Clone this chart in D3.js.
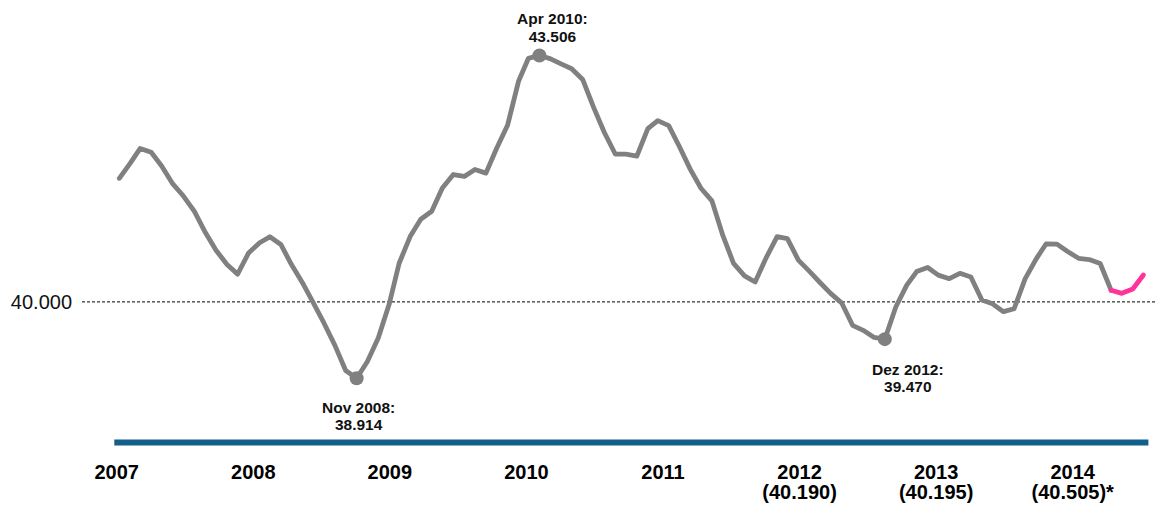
<!DOCTYPE html>
<html>
<head>
<meta charset="utf-8">
<script src="https://cdn.jsdelivr.net/npm/d3@7"></script>
<style>
  html, body { margin: 0; padding: 0; background: #fff; }
  svg { display: block; font-family: "Liberation Sans", Arial, sans-serif; }
</style>
</head>
<body>
<svg id="chart" width="1155" height="507"></svg>
<script>
// Monthly values, Jan 2007 – Dec 2014 (in thousands)
const startMonth = "2007-01";
const values = [
  // 2007
  41758, 41973, 42183, 42128, 41930, 41678, 41506, 41287, 40986, 40735, 40532, 40395,
  // 2008
  40696, 40842, 40926, 40817, 40531, 40273, 39993, 39697, 39378, 39024, 38914, 39149,
  // 2009
  39488, 39970, 40550, 40929, 41175, 41289, 41620, 41812, 41785, 41883, 41832, 42182,
  // 2010
  42512, 43138, 43465, 43506, 43461, 43385, 43316, 43164, 42767, 42413, 42104, 42101,
  // 2011
  42075, 42464, 42578, 42508, 42211, 41885, 41617, 41437, 40942, 40549, 40371, 40283,
  // 2012
  40627, 40927, 40899, 40595, 40441, 40276, 40122, 39987, 39667, 39596, 39494, 39470,
  // 2013
  39927, 40238, 40431, 40489, 40381, 40330, 40407, 40354, 40027, 39972, 39861, 39903,
  // 2014
  40327, 40609, 40824, 40822, 40717, 40620, 40602, 40546, 40165, 40122, 40184, 40383
];
// months from this one on are estimates
const estimateFrom = "2014-09";

const referenceValue = 40000;

// highlighted extremes
const markedMonths = ["2008-11", "2010-04", "2012-12"];
const markedTitles = ["Nov 2008:", "Apr 2010:", "Dez 2012:"];

// year axis
const years = ["2007", "2008", "2009", "2010", "2011", "2012", "2013", "2014"];
const yearAverages = [null, null, null, null, null, 40190, 40195, 40505];
const yearEstimated = [false, false, false, false, false, false, false, true];

// ---------------------------------------------------------------
const W = 1155, H = 507;
const svg = d3.select("#chart");
const parseMonth = d3.timeParse("%Y-%m");
const de = d3.formatLocale({ decimal: ",", thousands: ".", grouping: [3], currency: ["", " €"] });
const fmt = de.format(",d");

const start = parseMonth(startMonth);
const series = values.map((v, i) => ({ date: d3.timeMonth.offset(start, i), value: v }));
const estDate = parseMonth(estimateFrom);
const actual = series.filter(d => d.date <= estDate);
const estimate = series.filter(d => d.date >= estDate);

const x = d3.scaleTime()
  .domain(d3.extent(series, d => d.date))
  .range([119.3, 1143.4]);
const y = d3.scaleLinear()
  .domain([38000, 44000])
  .range([442.5, 20.7]);
const xYear = d3.scalePoint()
  .domain(years)
  .range([116.7, 1072.7]);

// reference line at 40.000
const yRef = y(referenceValue);
svg.append("line")
  .attr("x1", 82).attr("x2", W)
  .attr("y1", yRef).attr("y2", yRef)
  .attr("stroke", "#000").attr("stroke-width", 1)
  .attr("stroke-dasharray", "3,2");
svg.append("text")
  .attr("x", 72).attr("y", yRef).attr("dy", "0.35em")
  .attr("text-anchor", "end")
  .attr("font-size", 20).attr("fill", "#111")
  .text(fmt(referenceValue));

// base axis line
const [x0, x1] = x.range();
svg.append("line")
  .attr("x1", x0 - 5).attr("x2", x1 + 5)
  .attr("y1", y(y.domain()[0])).attr("y2", y(y.domain()[0]))
  .attr("stroke", "#125f8b").attr("stroke-width", 6);

// series
const line = d3.line().x(d => x(d.date)).y(d => y(d.value));
svg.append("path").datum(actual)
  .attr("d", line)
  .attr("fill", "none").attr("stroke", "#808080")
  .attr("stroke-width", 4.8)
  .attr("stroke-linejoin", "round").attr("stroke-linecap", "round");
svg.append("path").datum(estimate)
  .attr("d", line)
  .attr("fill", "none").attr("stroke", "#ff3399")
  .attr("stroke-width", 4.8)
  .attr("stroke-linejoin", "round").attr("stroke-linecap", "round");

// marked extremes
const marked = markedMonths.map((m, i) => {
  const dt = parseMonth(m);
  const d = series.find(s => +s.date === +dt);
  return { date: d.date, value: d.value, title: markedTitles[i] };
});
// label placement: [dx, first line dy, second line dy]
const labelPlace = [[2, 35, 52], [13, -31, -13], [23, 36, 52.5]];

svg.selectAll("circle.mark").data(marked).join("circle")
  .attr("class", "mark")
  .attr("cx", d => x(d.date)).attr("cy", d => y(d.value))
  .attr("r", 7).attr("fill", "#808080");

const lab = svg.selectAll("g.lab").data(marked).join("g")
  .attr("class", "lab")
  .attr("transform", (d, i) => `translate(${x(d.date) + labelPlace[i][0]},${y(d.value)})`)
  .attr("text-anchor", "middle")
  .attr("font-weight", "bold").attr("font-size", 15.5).attr("fill", "#111");
lab.append("text").attr("y", (d, i) => labelPlace[i][1]).text(d => d.title);
lab.append("text").attr("y", (d, i) => labelPlace[i][2]).text(d => fmt(d.value));

// year labels with annual averages
const yl = svg.selectAll("g.year").data(years).join("g")
  .attr("class", "year")
  .attr("transform", d => `translate(${xYear(d)},0)`)
  .attr("text-anchor", "middle")
  .attr("font-weight", "bold").attr("font-size", 20).attr("fill", "#000");
yl.append("text").attr("y", 479).text(d => d);
yl.filter((d, i) => yearAverages[i] != null)
  .append("text").attr("y", 499)
  .text(d => {
    const i = years.indexOf(d);
    return "(" + fmt(yearAverages[i]) + ")" + (yearEstimated[i] ? "*" : "");
  });
</script>
</body>
</html>
